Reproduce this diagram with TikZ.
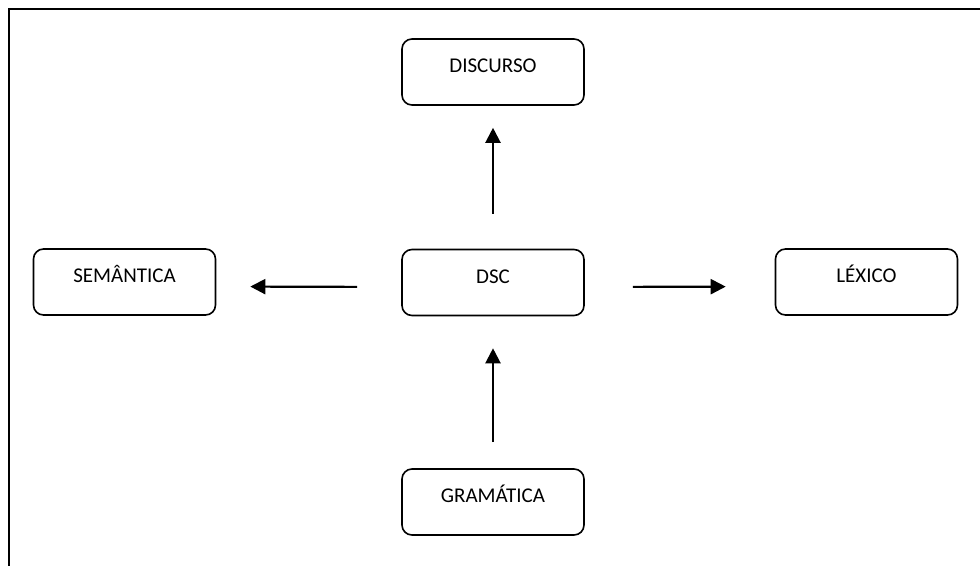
\documentclass[tikz,border=0pt]{standalone}
\usepackage{fontspec}
\setmainfont{Carlito}
\usetikzlibrary{arrows.meta}
\begin{document}
\begin{tikzpicture}[x=1pt,y=-1pt,
  box/.style={draw, line width=1.6pt, rounded corners=10pt, minimum width=182pt, minimum height=66pt,
    inner sep=0pt, text height=13.5pt, text depth=12pt, font=\fontsize{21}{25}\selectfont},
  arr/.style={line width=2.2pt, -{Triangle[length=15pt,width=15pt]}}]
\useasboundingbox (0,0) rectangle (980,565);
\draw[line width=2pt] (9,566) -- (9,9) -- (981,9);
\node[box] (disc) at (493,72) {DISCURSO};
\node[box] (dsc) at (493,282.5) {DSC};
\node[box] (sem) at (124.5,282) {SEMÂNTICA};
\node[box] (lex) at (866.5,282) {LÉXICO};
\node[box] (gram) at (493,502) {GRAMÁTICA};
\draw[arr, shorten <=35pt, shorten >=22pt] (dsc.north) -- (disc.south);
\draw[arr, shorten <=26pt, shorten >=32pt] (gram.north) -- (dsc.south);
\draw[arr, shorten <=44pt, shorten >=34pt] ([yshift=-4.5pt]dsc.west) -- ([yshift=-4.5pt]sem.east);
\draw[arr, shorten <=48pt, shorten >=49pt] ([yshift=-4.5pt]dsc.east) -- ([yshift=-4.5pt]lex.west);
\end{tikzpicture}
\end{document}
